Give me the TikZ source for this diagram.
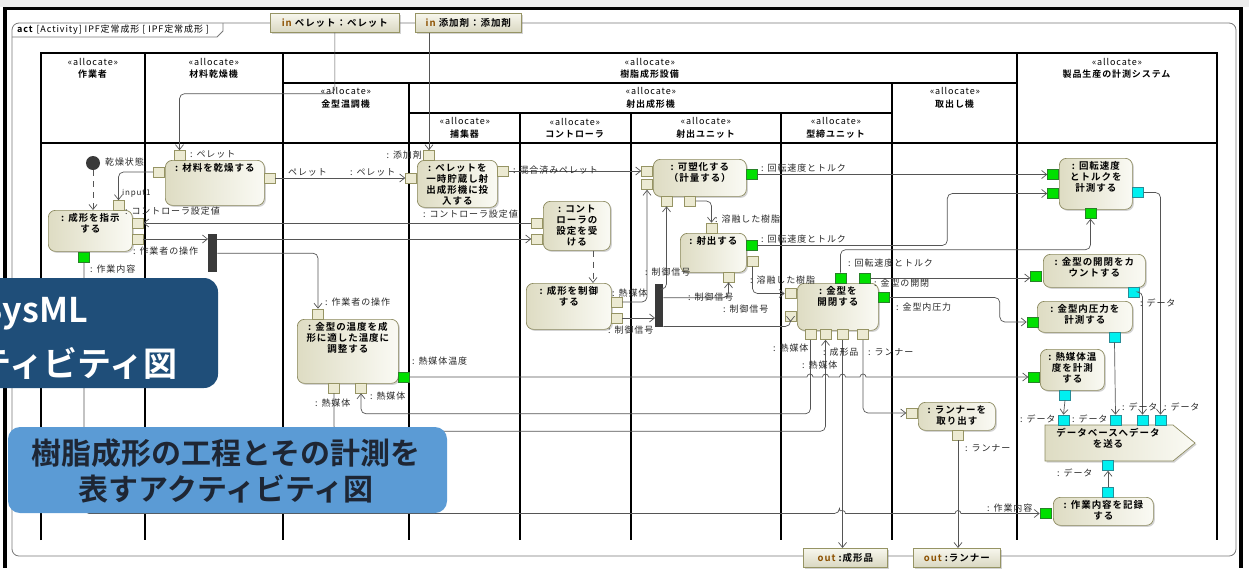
\documentclass[tikz,border=0pt]{standalone}
\usepackage{fontspec}
\setmainfont{Noto Sans CJK JP}[LetterSpace=10,BoldFont={Noto Sans CJK JP Bold}]
\newfontfamily\bigfont{Noto Sans CJK JP Bold}
\usetikzlibrary{arrows.meta,shadows,calc}
\definecolor{lnc}{RGB}{85,85,85}
\definecolor{pinfill}{RGB}{236,234,210}
\definecolor{pindraw}{RGB}{150,148,100}
\definecolor{actdraw}{RGB}{140,138,95}
\definecolor{actL}{RGB}{222,220,195}
\definecolor{actR}{RGB}{250,250,244}
\definecolor{grn}{RGB}{0,224,0}
\definecolor{grnd}{RGB}{40,130,40}
\definecolor{cyn}{RGB}{0,240,240}
\definecolor{cynd}{RGB}{40,140,150}
\definecolor{lbl}{RGB}{40,40,40}
\definecolor{dblue}{RGB}{31,78,121}
\definecolor{lblue}{RGB}{91,155,213}
\definecolor{navy}{RGB}{30,38,52}
\definecolor{inbrown}{RGB}{140,80,0}
\definecolor{framec}{RGB}{120,120,120}
\definecolor{barc}{RGB}{58,58,58}
\newcommand\acttxt[3]{\parbox[c][#2pt][t]{#1pt}{\centering\rule{0pt}{11pt}#3\par}}
\tikzset{
 lane/.style={line width=1.4pt, black},
 flow/.style={draw=lnc, line width=0.7pt, rounded corners=5pt, -{Straight Barb[length=5pt,width=8pt]}},
 ctlflow/.style={flow, dash pattern=on 6pt off 5pt},
 pinb/.style={draw=pindraw, fill=pinfill, minimum width=11pt, minimum height=10pt, inner sep=0, line width=0.6pt},
 ping/.style={pinb, fill=grn, draw=grnd},
 pinc/.style={pinb, fill=cyn, draw=cynd},
 actbox/.style={draw=actdraw, line width=0.7pt, rounded corners=7pt, left color=actL, right color=actR,
   drop shadow={shadow xshift=1.5pt, shadow yshift=-1.5pt, opacity=0.35}, inner sep=0, anchor=north west,
   font=\bfseries\fontsize{9.5}{11}\selectfont},
 iobox/.style={draw=pindraw, line width=0.7pt, top color=pinfill!40!white, bottom color=pinfill!92!black,
   drop shadow={shadow xshift=1.5pt, shadow yshift=-1.5pt, opacity=0.35}, inner sep=0, anchor=north west,
   font=\bfseries\fontsize{9.5}{10}\selectfont},
 lab/.style={font=\fontsize{9}{9.5}\selectfont, text=lbl, inner sep=0, anchor=west},
 hdr/.style={align=center, font=\fontsize{9}{12.5}\selectfont, inner sep=0},
 forkbar/.style={fill=barc, inner sep=0, anchor=north west},
}
\begin{document}
\begin{tikzpicture}[x=1pt,y=-1pt]
\useasboundingbox (0,0) rectangle (1249,568);
\fill[gray!15] (0,0) rectangle (1249,7);
\draw[line width=3pt] (3,8) -- (1243,8);
\draw[line width=3.5pt] (5,8) -- (5,568);
\draw[line width=3.5pt] (1241,8) -- (1241,568);
% activity frame
\draw[framec, line width=0.8pt, rounded corners=7pt] (12,23) rectangle (1236,556);
\draw[framec, line width=0.8pt] (12,37) -- (217,37) -- (223,31) -- (223,23);
\node[anchor=west, inner sep=0, font=\fontsize{9}{10}\selectfont] (title) at (17,30) {\textbf{act} [Activity] IPF定常成形 [ IPF定常成形 ]};
% parameter boxes
\node[iobox, minimum width=129pt, minimum height=19pt] (inP) at (270,13) {\textcolor{inbrown}{in} ペレット：ペレット};
\node[iobox, minimum width=106pt, minimum height=19pt] (inA) at (415,13) {\textcolor{inbrown}{in} 添加剤：添加剤};
\node[iobox, minimum width=84pt, minimum height=19pt] (outM) at (803,548) {\textcolor{inbrown}{out} :成形品};
\node[iobox, minimum width=87pt, minimum height=19pt] (outR) at (913,548) {\textcolor{inbrown}{out} :ランナー};
% swimlanes
\draw[lane] (41,540) -- (41,53) -- (1217,53) -- (1217,540);
\draw[lane] (41,143) -- (1217,143);
\draw[lane] (145,53) -- (145,540);
\draw[lane] (283,53) -- (283,540);
\draw[lane] (1017,53) -- (1017,540);
\draw[lane] (283,83) -- (1017,83);
\draw[lane] (409,83) -- (409,540);
\draw[lane] (892,83) -- (892,540);
\draw[lane] (409,113) -- (892,113);
\draw[lane] (520,113) -- (520,540);
\draw[lane] (631,113) -- (631,540);
\draw[lane] (781,113) -- (781,540);
\node[hdr] (h1) at (93,68.5) {«allocate»\\\textbf{作業者}};
\node[hdr] (h2) at (214,68.5) {«allocate»\\\textbf{材料乾燥機}};
\node[hdr] (h3) at (650,68.5) {«allocate»\\\textbf{樹脂成形設備}};
\node[hdr] (h4) at (1117,68.5) {«allocate»\\\textbf{製品生産の計測システム}};
\node[hdr] (h5) at (346,98) {«allocate»\\\textbf{金型温調機}};
\node[hdr] (h6) at (651,98) {«allocate»\\\textbf{射出成形機}};
\node[hdr] (h7) at (955,98) {«allocate»\\\textbf{取出し機}};
\node[hdr] (h8) at (465,128) {«allocate»\\\textbf{捕集器}};
\node[hdr] (h9) at (575,128) {«allocate»\\\textbf{コントローラ}};
\node[hdr] (h10) at (706,128) {«allocate»\\\textbf{射出ユニット}};
\node[hdr] (h11) at (836,128) {«allocate»\\\textbf{型締ユニット}};
% initial node and forks
\node[circle, fill=barc, minimum size=14pt, inner sep=0] (init) at (93,163) {};
\node[forkbar, minimum width=9pt, minimum height=38pt] (bar1) at (208,234) {};
\node[forkbar, minimum width=8pt, minimum height=43pt] (bar2) at (655,284) {};
% actions
\node[actbox, minimum width=99pt, minimum height=45pt] (dry) at (165,160) {\acttxt{99}{45}{: 材料を乾燥する}};
\node[actbox, minimum width=84pt, minimum height=41pt] (instr) at (48,210) {\acttxt{84}{41}{: 成形を指示\\する}};
\node[actbox, minimum width=80pt, minimum height=47pt] (store) at (417,160) {\acttxt{80}{47}{: ペレットを\\一時貯蔵し射\\出成形機に投\\入する}};
\node[actbox, minimum width=67pt, minimum height=49pt] (recv) at (543,201) {\acttxt{67}{49}{: コント\\ローラの\\設定を受\\ける}};
\node[actbox, minimum width=85pt, minimum height=46pt] (ctrl) at (526,283) {\acttxt{85}{46}{: 成形を制御\\する}};
\node[actbox, minimum width=101pt, minimum height=64pt] (temp) at (297,319) {\acttxt{101}{64}{: 金型の温度を成\\形に適した温度に\\調整する}};
\node[actbox, minimum width=93pt, minimum height=37pt] (plast) at (653,159) {\acttxt{93}{37}{: 可塑化する\\（計量する）}};
\node[actbox, minimum width=66pt, minimum height=39pt] (inject) at (680,233) {\acttxt{66}{39}{: 射出する}};
\node[actbox, minimum width=81pt, minimum height=47pt] (mold) at (797,283) {\acttxt{81}{47}{: 金型を\\開閉する}};
\node[actbox, minimum width=77pt, minimum height=28pt] (runner) at (918,402) {\acttxt{77}{28}{: ランナーを\\取り出す}};
\node[actbox, minimum width=73pt, minimum height=51pt] (meas) at (1059,158) {\acttxt{73}{51}{: 回転速度\\とトルクを\\計測する}};
\node[actbox, minimum width=102pt, minimum height=33pt] (count) at (1043,254) {\acttxt{102}{33}{: 金型の開閉をカ\\ウントする}};
\node[actbox, minimum width=95pt, minimum height=31pt] (press) at (1037,301) {\acttxt{95}{31}{: 金型内圧力を\\計測する}};
\node[actbox, minimum width=64pt, minimum height=41pt] (heat) at (1040,349) {\acttxt{64}{41}{: 熱媒体温\\度を計測\\する}};
\node[actbox, minimum width=100pt, minimum height=28pt] (record) at (1053,497) {\acttxt{100}{28}{: 作業内容を記録\\する}};
\path[draw=actdraw, line width=0.7pt, left color=actL, right color=actR, drop shadow={shadow xshift=1.5pt, shadow yshift=-1.5pt, opacity=0.35}]
  (1045,425) -- (1173,425) -- (1195,443) -- (1173,461) -- (1045,461) -- cycle;
\node[align=center, inner sep=0, font=\bfseries\fontsize{9.5}{11}\selectfont] (send) at (1108,438.5) {データベースへデータ\\を送る};
% pins
\node[pinb] (dry-t) at (179.5,155.5) {};
\node[pinb] (dry-l) at (159,172) {};
\node[pinb] (dry-r) at (269.5,178) {};
\node[pinb] (instr-t) at (118.5,205.5) {};
\node[pinb] (instr-r1) at (137.5,223) {};
\node[pinb] (instr-r2) at (137.5,239) {};
\node[ping] (instr-b) at (84,257) {};
\node[pinb] (store-t) at (429,155.5) {};
\node[pinb] (store-l) at (411,178) {};
\node[pinb] (store-r) at (503,171) {};
\node[pinb] (recv-l1) at (537,223) {};
\node[pinb] (recv-l2) at (537,239) {};
\node[pinb] (ctrl-r1) at (616.5,302) {};
\node[pinb] (ctrl-r2) at (616.5,318) {};
\node[pinb] (temp-t) at (318,314) {};
\node[ping] (temp-r) at (403.5,377) {};
\node[pinb] (temp-b1) at (334,388) {};
\node[pinb] (temp-b2) at (361,388) {};
\node[pinb] (plast-l1) at (647,171) {};
\node[pinb] (plast-l2) at (647,184.5) {};
\node[pinb] (plast-b1) at (666.5,201) {};
\node[pinb] (plast-b2) at (690,201) {};
\node[ping] (plast-r) at (751.5,174.5) {};
\node[pinb] (inj-t) at (711.5,228) {};
\node[ping] (inj-r1) at (751.5,245.5) {};
\node[pinb] (inj-r2) at (752.5,261) {};
\node[pinb] (inj-b) at (728.5,277) {};
\node[pinb] (mold-l1) at (790.5,293.5) {};
\node[pinb] (mold-l2) at (790.5,316.5) {};
\node[ping] (mold-t1) at (840.5,278) {};
\node[ping] (mold-t2) at (865,278) {};
\node[ping] (mold-r) at (884,297.5) {};
\node[pinb] (mold-b1) at (810.5,334.5) {};
\node[pinb] (mold-b2) at (825.5,334.5) {};
\node[pinb] (mold-b3) at (842.5,334.5) {};
\node[pinb] (mold-b4) at (863,334.5) {};
\node[pinb] (run-l) at (912,413) {};
\node[pinb] (run-b) at (958,435) {};
\node[ping] (m1-l1) at (1053,174.5) {};
\node[ping] (m1-l2) at (1053,193.5) {};
\node[pinc] (m1-r) at (1138,192.5) {};
\node[ping] (m1-b) at (1090.5,213.5) {};
\node[ping] (cnt-l) at (1036,276) {};
\node[pinc] (cnt-b) at (1133.5,292) {};
\node[ping] (pr-l) at (1032.5,322) {};
\node[pinc] (pr-b) at (1114.5,337) {};
\node[ping] (ht-l) at (1034,377) {};
\node[pinc] (ht-b) at (1065,395) {};
\node[pinc] (sd-t1) at (1063.5,420) {};
\node[pinc] (sd-t2) at (1115.5,420) {};
\node[pinc] (sd-t3) at (1142.5,420) {};
\node[pinc] (sd-t4) at (1160.5,420) {};
\node[pinc] (sd-b) at (1108,465.5) {};
\node[pinc] (rec-t) at (1108,492) {};
\node[ping] (rec-l) at (1045.5,513.5) {};
% control flows
\coordinate (cx) at (593,0);
\draw[ctlflow] (init.south) -- (init.south |- instr.north);
\draw[ctlflow] (recv.south -| cx) -- (ctrl.north -| cx);
% object flows
\draw[flow] (inP.south) -- ++(0,61) -| (dry-t.north);
\draw[flow] (dry-l.west) -| (instr-t.north);
\draw[flow] (dry-r.east) -- (store-l.west);
\draw[flow] (inA.south -| store-t.north) -- (store-t.north);
\draw[flow] (store-r.east) -- (plast-l1.west);
\draw[flow] (recv-l1.west) -- (instr-r1.east);
\draw[flow] (instr-r2.east) -- (instr-r2.east -| bar1.west);
\draw[flow] (bar1.east |- recv-l2.west) -- (recv-l2.west);
\draw[flow] (bar1.east) -| (temp-t.north);
\draw[flow, sharp corners] (temp-r.east) -- (807,377) arc[start angle=180,end angle=360,radius=3]
  -- (822.5,377) arc[start angle=180,end angle=360,radius=3]
  -- (839.5,377) arc[start angle=180,end angle=360,radius=3]
  -- (860,377) arc[start angle=180,end angle=360,radius=3] -- (ht-l.west);
\draw[flow] (temp-b1.south) -- ++(0,38) -| (mold-b2.south);
\draw[flow] (mold-b1.south) -- ++(0,74) -| (temp-b2.south);
\draw[flow] (mold-b3.south) -- (mold-b3.south |- outM.north);
\draw[flow] (mold-b4.south) |- (run-l.west);
\draw[flow] (run-b.south) -- (run-b.south |- outR.north);
\draw[flow] (mold-t1.north) -- ++(0,-23) -| (m1-b.south);
\draw[flow] (mold-t2.east) -- (mold-t2.east -| cnt-l.west);
\draw[flow] (mold-r.east) -- ++(110,0) |- (pr-l.west);
\draw[flow] (inj-r1.east) -- ++(190,0) |- (m1-l2.west);
\draw[flow] (plast-r.east) -- (m1-l1.west);
\draw[flow] (plast-b2.east) -| (inj-t.north);
\draw[flow] (inj-r2.south) |- (mold-l1.west);
\draw[flow] (ctrl-r1.east) -| (plast-l2.south);
\draw[flow] (ctrl-r2.east) -- (ctrl-r2.east -| bar2.west);
\draw[flow] ($(bar2.north east)+(0,5)$) -| (plast-b1.south);
\draw[flow] ($(bar2.east)+(0,-8)$) -| (inj-b.south);
\draw[flow] ($(bar2.south east)+(0,-1)$) -| (mold-l2.south);
\draw[flow] (instr-b.south) |- (839.5,513.5) [sharp corners] arc[start angle=180,end angle=360,radius=3]
  -- (955,513.5) arc[start angle=180,end angle=360,radius=3] -- (rec-l.west);
\draw[flow] (rec-t.north) -- (sd-b.south);
\draw[flow] (m1-r.east) -| (sd-t4.north);
\draw[flow] (cnt-b.east) -| (sd-t3.north);
\draw[flow] (pr-b.south) -- (sd-t2.north);
\draw[flow] (ht-b.south) -- (sd-t1.north);
% labels
\node[lab] (l1) at (190,154) {: ペレット};
\node[lab] (l2) at (105,162) {乾燥状態};
\node[lab, font=\fontsize{8}{8.5}\selectfont] (l3) at (122,193) {input1};
\node[lab] (l4) at (125,211) {: コントローラ設定値};
\node[lab] (l5) at (133,251) {: 作業者の操作};
\node[lab] (l6) at (90,269) {: 作業内容};
\node[lab] (l7a) at (288,172) {ペレット};
\node[lab] (l7b) at (350,172) {: ペレット};
\node[lab, anchor=east] (l8) at (422,155) {: 添加剤};
\node[lab] (l9) at (513,170) {: 混合済みペレット};
\node[lab] (l10) at (423,214) {: コントローラ設定値};
\node[lab] (l11) at (325,302) {: 作業者の操作};
\node[lab] (l12) at (412,361) {: 熱媒体温度};
\node[lab] (l13) at (315,403) {: 熱媒体};
\node[lab] (l14) at (370,396) {: 熱媒体};
\node[lab] (l15) at (612,293) {: 熱媒体};
\node[lab] (l16) at (608,330) {: 制御信号};
\node[lab] (l17) at (645,272) {: 制御信号};
\node[lab] (l18) at (688,297) {: 制御信号};
\node[lab] (l19) at (723,309) {: 制御信号};
\node[lab] (l20) at (761,168) {: 回転速度とトルク};
\node[lab] (l21) at (715,219) {: 溶融した樹脂};
\node[lab] (l22) at (761,239) {: 回転速度とトルク};
\node[lab] (l23) at (750,280) {: 溶融した樹脂};
\node[lab] (l24) at (848,263) {: 回転速度とトルク};
\node[lab] (l25) at (874,283) {: 金型の開閉};
\node[lab] (l26) at (896,307) {: 金型内圧力};
\node[lab] (l27) at (773,348) {: 熱媒体};
\node[lab] (l28) at (823,352) {: 成形品};
\node[lab] (l29) at (868,352) {: ランナー};
\node[lab] (l30) at (802,365) {: 熱媒体};
\node[lab] (l31) at (965,448) {: ランナー};
\node[lab] (l32) at (1140,303) {: データ};
\node[lab] (l33) at (1020,419) {: データ};
\node[lab] (l34) at (1072,419) {: データ};
\node[lab] (l35) at (1122,407) {: データ};
\node[lab] (l36) at (1164,407) {: データ};
\node[lab] (l37) at (1057,473) {: データ};
\node[lab] (l38) at (987,508) {: 作業内容};
% overlays
\fill[dblue, rounded corners=14pt] (-30,278) rectangle (218,388);
\node[anchor=base east, text=white, inner sep=0, font=\bigfont\fontsize{34}{34}\selectfont] (ov1) at (88,322) {SysML};
\node[anchor=base east, text=white, inner sep=0, font=\bigfont\fontsize{34}{34}\selectfont] (ov2) at (178,376) {アクティビティ図};
\fill[lblue, rounded corners=12pt] (8,427) rectangle (447,513);
\node[align=center, text=navy, inner sep=0, font=\bigfont\fontsize{30}{36}\selectfont] (ov3) at (226,471) {樹脂成形の工程とその計測を\\表すアクティビティ図};
\end{tikzpicture}
\end{document}
